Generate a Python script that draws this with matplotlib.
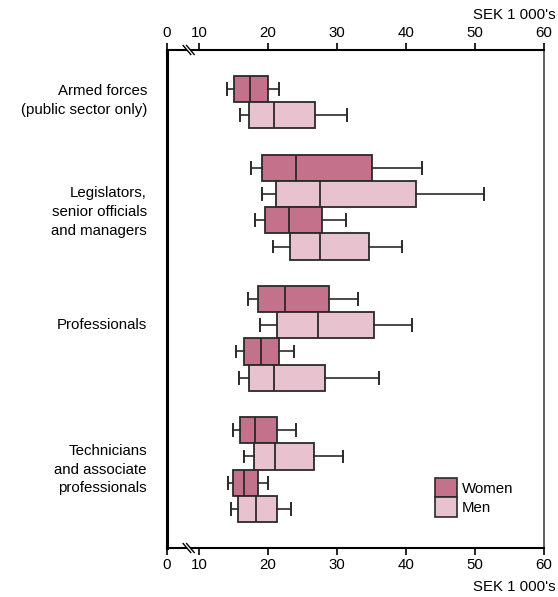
import matplotlib
matplotlib.use("Agg")
import matplotlib.pyplot as plt
import matplotlib.transforms as mtransforms
from matplotlib.patches import Patch, Polygon

plt.rcParams['font.family'] = ['Liberation Sans', 'DejaVu Sans']

# ---- data ----
categories = ["Armed forces\n(public sector only)",
              "Legislators,\nsenior officials\nand managers",
              "Professionals",
              "Technicians\nand associate\nprofessionals"]
rows_per_category = [2, 4, 4, 4]
row_sex = ["Women", "Men",
           "Women", "Men", "Women", "Men",
           "Women", "Men", "Women", "Men",
           "Women", "Men", "Women", "Men"]
whislo = [14.1, 15.9, 17.5, 19.1, 18.1, 20.7, 17.1, 18.9, 15.3, 15.8, 14.9, 16.5, 14.25, 14.7]
q1     = [15.1, 17.3, 19.1, 21.2, 19.5, 23.2, 18.6, 21.3, 16.5, 17.3, 16.0, 18.0, 14.9, 15.7]
med    = [17.4, 20.8, 24.1, 27.6, 23.1, 27.5, 22.4, 27.2, 19.0, 20.9, 18.1, 21.0, 16.5, 18.2]
q3     = [20.05, 26.8, 35.0, 41.4, 27.8, 34.6, 28.8, 35.4, 21.6, 28.2, 21.3, 26.7, 18.5, 21.3]
whishi = [21.6, 31.5, 42.3, 51.3, 31.3, 39.4, 33.0, 40.9, 23.8, 36.1, 24.0, 30.9, 20.0, 23.4]
tick_values = [10, 20, 30, 40, 50, 60]
tick_labels = ["10", "20", "30", "40", "50", "60"]
axis_unit = "SEK 1 000's"

# ---- style ----
colors = {"Women": "#C4718B", "Men": "#E8C3CF"}
edge = "#2a2a2a"
fs = 10.8

fig = plt.figure(figsize=(5.58, 5.97), dpi=100)
ax = fig.add_axes([167/558, 1-548/597, (544-167)/558, (548-50)/597])

# positions: one blank row between categories
positions = []
r = 0
for n in rows_per_category:
    positions.extend(range(r, r + n))
    r += n + 1

stats = [dict(whislo=a, q1=b, med=c, q3=d, whishi=e, fliers=[])
         for a, b, c, d, e in zip(whislo, q1, med, q3, whishi)]

bp = ax.bxp(stats, positions=positions, widths=1.0, orientation='horizontal',
            patch_artist=True, showfliers=False, capwidths=0.45, manage_ticks=False,
            boxprops=dict(edgecolor=edge, linewidth=1.3),
            medianprops=dict(color=edge, linewidth=1.3),
            whiskerprops=dict(color=edge, linewidth=1.2),
            capprops=dict(color=edge, linewidth=1.4))
for patch, s in zip(bp['boxes'], row_sex):
    patch.set_facecolor(colors[s])

# axis (broken at left: "0" placed at left edge)
x_left = 5.36
ax.set_xlim(x_left, 60)
ax.set_ylim(positions[-1] + 1.49, -1.49)
ax.set_yticks([])
ax.set_xticks([x_left] + tick_values)
ax.set_xticklabels(["0"] + tick_labels, fontsize=fs)
ax.tick_params(axis='x', top=True, labeltop=True, bottom=True, labelbottom=True,
               direction='out', length=5, width=1.2, color='black', pad=2)
ax.spines['left'].set_linewidth(2.2)
ax.spines['right'].set_linewidth(1.2)
ax.spines['right'].set_color('#444444')
ax.spines['top'].set_linewidth(1.5)
ax.spines['bottom'].set_linewidth(1.5)

# break marks
trans = mtransforms.blended_transform_factory(ax.transData, ax.transAxes)
bx = 8.25
dx = 0.55   # data units
dy = 0.009  # axes fraction
gap = 0.5
for yb in (0.0, 1.0):
    poly = Polygon([(bx - dx, yb + dy), (bx - dx + gap, yb + dy),
                    (bx + dx + gap, yb - dy), (bx + dx, yb - dy)],
                   closed=True, facecolor='white', edgecolor='none',
                   transform=trans, clip_on=False, zorder=5)
    ax.add_patch(poly)
    for off in (0, gap):
        ax.plot([bx - dx + off, bx + dx + off], [yb + dy, yb - dy],
                color='black', lw=1.0, transform=trans, clip_on=False, zorder=6)

# unit labels
ax.text(1.03, 1.0 + 35/498, axis_unit, transform=ax.transAxes, ha='right',
        va='center', fontsize=fs)
ax.text(1.03, -39/498, axis_unit, transform=ax.transAxes, ha='right',
        va='center', fontsize=fs)

# category labels
label_rows = [0.45, 4.7, 9.0, 14.5]
ltrans = mtransforms.blended_transform_factory(fig.transFigure, ax.transData)
for lab, yr in zip(categories, label_rows):
    ax.text(147/558, yr, lab, transform=ltrans, ha='right', va='center',
            fontsize=fs, linespacing=1.45, multialignment='right')

# legend
handles = [Patch(facecolor=colors["Women"], edgecolor=edge, linewidth=1.2, label="Women"),
           Patch(facecolor=colors["Men"], edgecolor=edge, linewidth=1.2, label="Men")]
fig.legend(handles=handles, loc='upper left', bbox_to_anchor=(435/558, 1-478/597),
           frameon=False, fontsize=fs, handlelength=1.45, handleheight=1.6,
           handletextpad=0.35, labelspacing=0.0, borderpad=0, borderaxespad=0)

fig.savefig("out.png", dpi=100)
